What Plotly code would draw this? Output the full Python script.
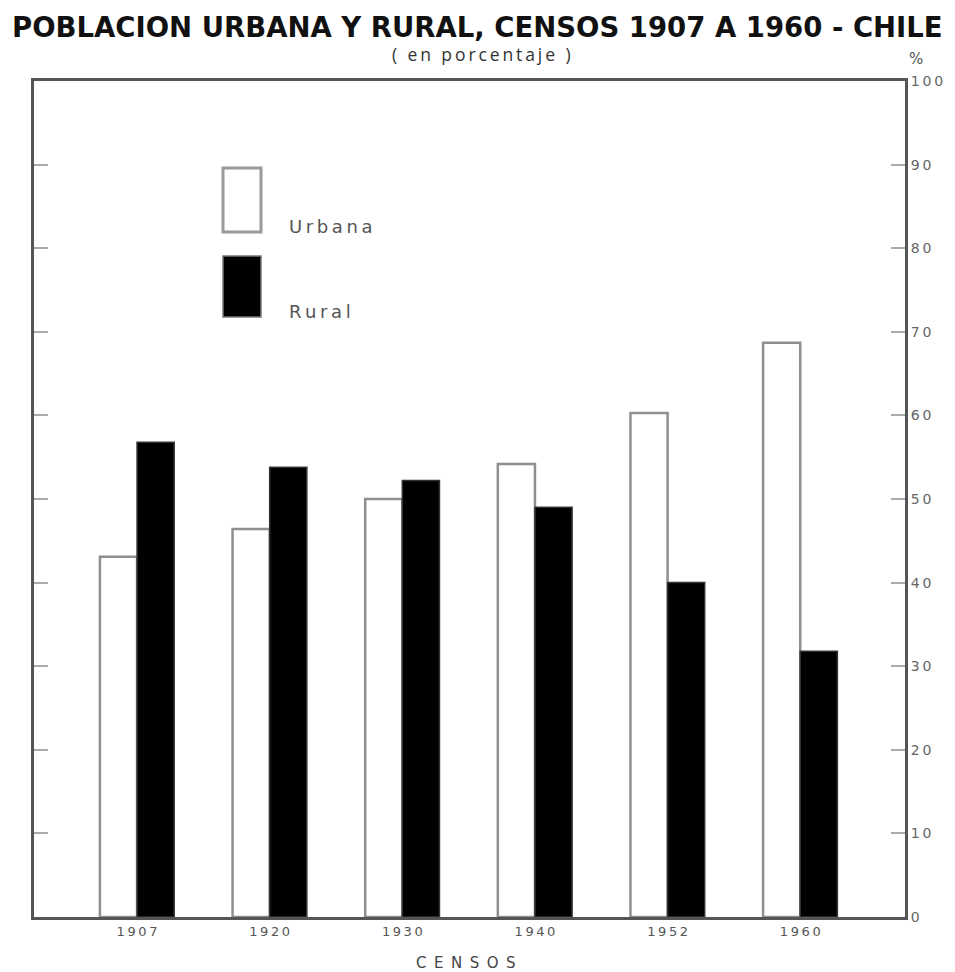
import plotly.graph_objects as go

censos = ["1907", "1920", "1930", "1940", "1952", "1960"]
urbana = [43.1, 46.4, 50.0, 54.2, 60.3, 68.7]
rural = [56.8, 53.8, 52.2, 49.0, 40.0, 31.8]
y_ticks = [0, 10, 20, 30, 40, 50, 60, 70, 80, 90, 100]

TS = "\u2009"  # thin space, imitates the wide letter spacing of the original


def spaced(s):
    return TS.join(list(s))


fig = go.Figure()
fig.add_trace(go.Bar(x=censos, y=urbana, name="Urbana",
                     marker=dict(color="white", line=dict(color="#8f8f8f", width=2.5)),
                     showlegend=False))
fig.add_trace(go.Bar(x=censos, y=rural, name="Rural",
                     marker=dict(color="black", line=dict(color="#333", width=1.5)),
                     showlegend=False))

L, R, T, B = 34, 905, 81, 917
W, H = 955, 972

fig.update_layout(
    width=W, height=H,
    paper_bgcolor="white", plot_bgcolor="white",
    margin=dict(l=L, r=W - R, t=T, b=H - B, pad=0),
    barmode="group", bargap=0.44, bargroupgap=0,
    font=dict(family="DejaVu Sans", color="#444"),
    xaxis=dict(type="category", range=[-0.777, 5.79], showline=True, mirror=True,
               linecolor="#555", linewidth=3, ticks="", showgrid=False,
               tickvals=censos, ticktext=[spaced(c) for c in censos],
               tickfont=dict(family="DejaVu Sans", size=13, color="#555")),
    yaxis=dict(range=[0, 100], side="right", tickvals=y_ticks,
               ticktext=[spaced(str(v)) for v in y_ticks],
               showline=True, mirror="ticks", linecolor="#555", linewidth=3,
               ticks="inside", ticklen=14, tickwidth=2, tickcolor="#aaa",
               showgrid=False, zeroline=False,
               tickfont=dict(family="DejaVu Sans", size=14, color="#666")),
)


def px_x(v):
    return (v - L) / (R - L)


def px_y(v):
    return (B - v) / (B - T)


fig.add_annotation(text="<b>POBLACION URBANA Y RURAL, CENSOS 1907 A 1960 - CHILE</b>",
                   xref="paper", yref="paper", x=px_x(477), xanchor="center",
                   y=px_y(27), yanchor="middle", showarrow=False,
                   font=dict(family="DejaVu Sans", size=27.5, color="#111"))
fig.add_annotation(text=spaced("( en porcentaje )"), xref="paper", yref="paper",
                   x=px_x(481), xanchor="center",
                   y=px_y(54), yanchor="middle", showarrow=False,
                   font=dict(family="Open Sans", size=17.5, color="#333"))
fig.add_annotation(text="%", xref="paper", yref="paper",
                   x=px_x(916), xanchor="center",
                   y=px_y(59), yanchor="middle", showarrow=False,
                   font=dict(family="DejaVu Sans", size=15, color="#555"))
fig.add_annotation(text="C\u2002E\u2002N\u2002S\u2002O\u2002S", xref="paper", yref="paper",
                   x=px_x(466), xanchor="center",
                   y=px_y(963), yanchor="middle", showarrow=False,
                   font=dict(family="DejaVu Sans", size=15, color="#444"))

# legend
fig.add_shape(type="rect", xref="paper", yref="paper",
              x0=px_x(223), x1=px_x(261), y0=px_y(232), y1=px_y(168),
              fillcolor="white", line=dict(color="#9a9a9a", width=3))
fig.add_shape(type="rect", xref="paper", yref="paper",
              x0=px_x(223), x1=px_x(261), y0=px_y(317), y1=px_y(256),
              fillcolor="black", line=dict(color="#777", width=1.5))
fig.add_annotation(text=spaced("Urbana"), xref="paper", yref="paper", x=px_x(287), xanchor="left",
                   y=px_y(226), yanchor="middle", showarrow=False,
                   font=dict(family="DejaVu Sans", size=18, color="#555"))
fig.add_annotation(text=spaced("Rural"), xref="paper", yref="paper", x=px_x(287), xanchor="left",
                   y=px_y(311), yanchor="middle", showarrow=False,
                   font=dict(family="DejaVu Sans", size=18, color="#555"))

fig.write_html("out.html", config={"displayModeBar": False},
               post_script="document.body.style.margin='0';")
